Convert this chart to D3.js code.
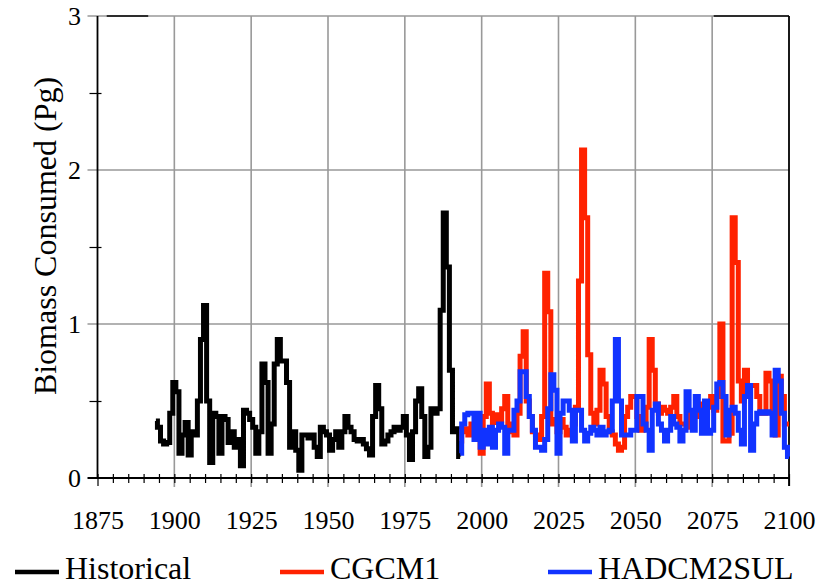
<!DOCTYPE html>
<html>
<head>
<meta charset="utf-8">
<script src="https://cdn.jsdelivr.net/npm/d3@7"></script>
<style>
  body { margin: 0; background: #fff; }
</style>
</head>
<body>
<div id="chart"></div>
<script>
// annual values, Pg
var histStart = 1894;
var historical = [
  0.37, 0.33, 0.24, 0.22, 0.23, 0.42, 0.62, 0.56, 0.16, 0.28,
  0.36, 0.15, 0.30, 0.28, 0.50, 0.90, 1.12, 0.50, 0.10, 0.42,
  0.40, 0.16, 0.40, 0.38, 0.23, 0.30, 0.20, 0.25, 0.08, 0.44,
  0.42, 0.38, 0.33, 0.16, 0.30, 0.74, 0.62, 0.16, 0.35, 0.74,
  0.90, 0.76, 0.76, 0.62, 0.20, 0.30, 0.18, 0.05, 0.28, 0.28,
  0.26, 0.28, 0.20, 0.14, 0.33, 0.30, 0.28, 0.18, 0.25, 0.30,
  0.20, 0.30, 0.40, 0.33, 0.30, 0.25, 0.24, 0.25, 0.22, 0.19,
  0.15, 0.40, 0.60, 0.45, 0.22, 0.24, 0.28, 0.30, 0.33, 0.31,
  0.33, 0.40, 0.28, 0.12, 0.30, 0.50, 0.58, 0.40, 0.14, 0.20,
  0.45, 0.42, 0.45, 1.09, 1.72, 1.37, 0.70, 0.30, 0.32, 0.14
];

var projStart = 1993;
var cgcm1 = [
  0.24, 0.30, 0.32, 0.28, 0.35, 0.30, 0.25, 0.16, 0.40, 0.61,
  0.42, 0.36, 0.41, 0.37, 0.45, 0.53, 0.30, 0.35, 0.28, 0.42,
  0.79, 0.95, 0.50, 0.40, 0.30, 0.28, 0.25, 0.40, 1.33, 1.08,
  0.35, 0.38, 0.30, 0.38, 0.33, 0.28, 0.31, 0.35, 0.46, 1.28,
  2.13, 1.69, 0.80, 0.42, 0.35, 0.44, 0.70, 0.61, 0.40, 0.30,
  0.28, 0.22, 0.18, 0.20, 0.40, 0.46, 0.53, 0.53, 0.40, 0.31,
  0.33, 0.46, 0.90, 0.70, 0.48, 0.42, 0.46, 0.44, 0.42, 0.46,
  0.53, 0.40, 0.35, 0.35, 0.33, 0.42, 0.40, 0.40, 0.46, 0.48,
  0.42, 0.46, 0.53, 0.44, 0.53, 1.00, 0.24, 0.24, 0.29, 1.69,
  1.40, 0.63, 0.50, 0.70, 0.53, 0.60, 0.60, 0.53, 0.42, 0.42,
  0.68, 0.63, 0.42, 0.28, 0.66, 0.53, 0.35, 0.35
];
var hadcm2sul = [
  0.16, 0.35, 0.41, 0.42, 0.42, 0.25, 0.42, 0.20, 0.31, 0.22,
  0.33, 0.20, 0.31, 0.35, 0.33, 0.16, 0.31, 0.31, 0.44, 0.50,
  0.69, 0.69, 0.53, 0.40, 0.31, 0.20, 0.20, 0.18, 0.25, 0.45,
  0.67, 0.57, 0.16, 0.42, 0.50, 0.50, 0.44, 0.24, 0.44, 0.44,
  0.31, 0.24, 0.29, 0.33, 0.31, 0.28, 0.33, 0.28, 0.30, 0.31,
  0.50, 0.90, 0.50, 0.28, 0.28, 0.28, 0.31, 0.31, 0.53, 0.53,
  0.35, 0.31, 0.18, 0.44, 0.48, 0.35, 0.31, 0.24, 0.31, 0.40,
  0.35, 0.33, 0.24, 0.31, 0.56, 0.44, 0.31, 0.53, 0.44, 0.29,
  0.50, 0.29, 0.31, 0.46, 0.61, 0.62, 0.53, 0.28, 0.44, 0.46,
  0.42, 0.31, 0.22, 0.53, 0.60, 0.18, 0.35, 0.42, 0.43, 0.42,
  0.43, 0.42, 0.28, 0.70, 0.63, 0.42, 0.20, 0.14
];

var xTicks = [1875, 1900, 1925, 1950, 1975, 2000, 2025, 2050, 2075, 2100];
var yTicks = [0, 1, 2, 3];
var yMinor = [0.5, 1.5, 2.5];
var seriesNames = ["Historical", "CGCM1", "HADCM2SUL"];
var seriesColors = ["#000000", "#ff2200", "#1133ff"];

var width = 818, height = 587;
var FONT = "'Liberation Serif', Tinos, 'Times New Roman', Times, 'Nimbus Roman', 'DejaVu Serif', serif";

var svg = d3.select("#chart").append("svg")
    .attr("width", width)
    .attr("height", height)
    .attr("font-family", FONT);

var x = d3.scaleLinear().domain([1875, 2100]).range([97.5, 789]);
var y = d3.scaleLinear().domain([0, 3]).range([478, 16]);

// grid
svg.append("g").selectAll("line")
    .data(xTicks.slice(1, -1))
    .enter().append("line")
    .attr("x1", d => x(d)).attr("x2", d => x(d))
    .attr("y1", y(3)).attr("y2", y(0) + 9)
    .attr("stroke", "#999").attr("stroke-width", 1.6);

svg.append("g").selectAll("line")
    .data(yTicks.slice(1))
    .enter().append("line")
    .attr("x1", x(1875) - 10).attr("x2", x(2100))
    .attr("y1", d => y(d)).attr("y2", d => y(d))
    .attr("stroke", "#999").attr("stroke-width", 1.6);

// short black pieces of the top frame
svg.append("line").attr("x1", x(1878)).attr("x2", x(1891.5))
    .attr("y1", y(3)).attr("y2", y(3)).attr("stroke", "#000").attr("stroke-width", 1.5);
svg.append("line").attr("x1", x(2075.5)).attr("x2", x(2100))
    .attr("y1", y(3)).attr("y2", y(3)).attr("stroke", "#000").attr("stroke-width", 1.5);

// x axis: minor ticks every 5 years crossing the base line
var xAxis = d3.axisBottom(x)
    .tickValues(d3.range(1875, 2101, 5))
    .tickSize(5)
    .tickFormat("");
var gx = svg.append("g").attr("transform", "translate(0," + y(0) + ")").call(xAxis);
gx.select(".domain").remove();
gx.selectAll(".tick line").attr("y1", -4).attr("stroke", "#000").attr("stroke-width", 1.2);
gx.selectAll(".tick line").filter(d => d === 1875 || d === 2100).attr("y2", 8);

svg.append("line")
    .attr("x1", x(1875) - 10).attr("x2", x(2100))
    .attr("y1", y(0)).attr("y2", y(0))
    .attr("stroke", "#000").attr("stroke-width", 1.8);

var xLabels = d3.axisBottom(x).tickValues(xTicks).tickSize(0).tickPadding(0).tickFormat(d3.format("d"));
var gxl = svg.append("g").attr("transform", "translate(0,529)").call(xLabels);
gxl.attr("font-family", FONT).attr("font-size", 26);
gxl.select(".domain").remove();
gxl.selectAll("text").attr("dy", 0).attr("y", 0).attr("fill", "#000");

// y axis
var yAxis = d3.axisLeft(y).tickValues(yMinor).tickSize(8).tickFormat("");
var gy = svg.append("g").attr("transform", "translate(" + x(1875) + ",0)").call(yAxis);
gy.select(".domain").remove();
gy.selectAll(".tick line").attr("x2", -8).attr("x1", 4).attr("stroke", "#000").attr("stroke-width", 1.2);

var yLabels = d3.axisLeft(y).tickValues(yTicks).tickSize(0).tickPadding(0).tickFormat(d3.format("d"));
var gyl = svg.append("g").attr("transform", "translate(81,0)").call(yLabels);
gyl.attr("font-family", FONT).attr("font-size", 26);
gyl.select(".domain").remove();
gyl.selectAll("text").attr("dy", "0.34em").attr("fill", "#000");

svg.append("line")
    .attr("x1", x(1875)).attr("x2", x(1875))
    .attr("y1", y(3)).attr("y2", y(0))
    .attr("stroke", "#000").attr("stroke-width", 1.8);
svg.append("line")
    .attr("x1", x(2100)).attr("x2", x(2100))
    .attr("y1", y(3)).attr("y2", y(0) + 8)
    .attr("stroke", "#000").attr("stroke-width", 1.8);

svg.append("text")
    .attr("transform", "translate(56,236) rotate(-90)")
    .attr("text-anchor", "middle")
    .attr("font-size", 32)
    .text("Biomass Consumed (Pg)");

// series, drawn as steps centred on each year
var line = d3.line()
    .curve(d3.curveStep)
    .x(d => x(d[0]))
    .y(d => y(d[1]));

function toPoints(start, values) {
    return values.map((v, i) => [start + i, v]);
}

var series = [
    toPoints(histStart, historical),
    toPoints(projStart, cgcm1),
    toPoints(projStart, hadcm2sul)
];

svg.append("g").selectAll("path")
    .data(series)
    .enter().append("path")
    .attr("d", line)
    .attr("fill", "none")
    .attr("stroke", (d, i) => seriesColors[i])
    .attr("stroke-width", 5);

// legend
var legendX = [15, 280, 548];
var legend = svg.append("g").selectAll("g")
    .data(seriesNames)
    .enter().append("g")
    .attr("transform", (d, i) => "translate(" + legendX[i] + ",572)");
legend.append("line")
    .attr("x1", 0).attr("x2", 44)
    .attr("stroke", (d, i) => seriesColors[i])
    .attr("stroke-width", 4.5);
legend.append("text")
    .attr("x", 50).attr("y", 7)
    .attr("font-size", 32)
    .text(d => d);
</script>
</body>
</html>
